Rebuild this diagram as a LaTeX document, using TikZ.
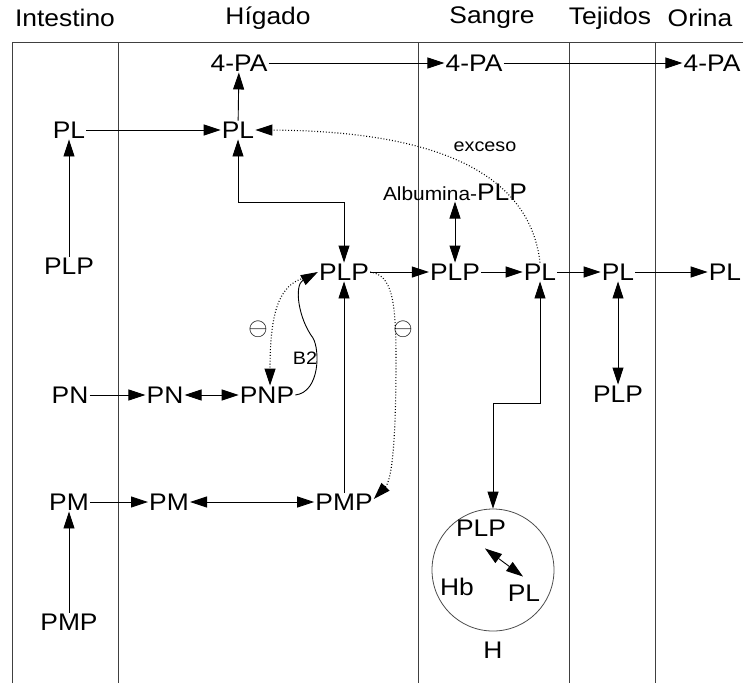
\documentclass[tikz,border=0pt]{standalone}
\usepackage{fontspec}
\setmainfont{Liberation Sans}[FakeStretch=1.1]
\usepackage{tikz}
\usetikzlibrary{arrows.meta}
\tikzstyle{lane} = [draw=black!75, 
line width=1pt]
\tikzstyle{head} = [inner sep=0pt, 
font=\fontsize{24}{24}\selectfont]
\tikzstyle{mol} = [inner sep=1pt, 
font=\fontsize{24}{24}\selectfont]
\tikzstyle{note} = [inner sep=1pt, 
font=\fontsize{18}{18}\selectfont]
\tikzstyle{cell} = [circle, 
draw=black!70, 
line width=0.8pt, 
minimum size=122pt]
\tikzstyle{arrow} = [line width=0.9pt, -{Triangle[length=17pt,width=11pt]}]
\tikzstyle{both} = [line width=0.9pt, {Triangle[length=17pt,width=11pt]}-{Triangle[length=17pt,width=11pt]}]
\tikzstyle{dots} = [arrow, dotted, line width=1.1pt]

\begin{document}
\begin{tikzpicture}[x=1pt, y=-1pt]
		\useasboundingbox (0,0) rectangle (743,683);
		\draw [lane] (12,683) |- (743,42);
		\foreach \x in {118,418,569,655}
			\draw [lane] (\x,42) -- (\x,683);
	
		\node (hint) [head] at (65,18) {Intestino};
		\node (hhig) [head] at (268,18) {Hígado};
		\node (hsan) [head] at (492,18) {Sangre};
		\node (htej) [head] at (610,18) {Tejidos};
		\node (hori) [head] at (700,18) {Orina};
	
		\node (pahig) [mol] at (239,63) {4-PA};
		\node (pasan) [mol] at (474,63) {4-PA};
		\node (paori) [mol] at (712,63) {4-PA};
		\node (plint) [mol] at (69,130) {PL};
		\node (plhig) [mol] at (238,130) {PL};
		\node (plpint) [mol] at (69,266) {PLP};
		\node (alb) [mol] at (455,192) {{\fontsize{19}{19}\selectfont Albumina-}PLP};
		\node (plphig) [mol] at (344,272) {PLP};
		\node (plpsan) [mol] at (455,272) {PLP};
		\node (plsan) [mol] at (540,272) {PL};
		\node (pltej) [mol] at (618,272) {PL};
		\node (plori) [mol] at (725,272) {PL};
		\node (plptej) [mol] at (618,394) {PLP};
		\node (pnint) [mol] at (70,395) {PN};
		\node (pnhig) [mol] at (165,395) {PN};
		\node (pnp) [mol] at (267,395) {PNP};
		\node (pmint) [mol] at (69,502) {PM};
		\node (pmhig) [mol] at (169,502) {PM};
		\node (pmp) [mol] at (344,502) {PMP};
		\node (pmpint) [mol] at (69,622) {PMP};
		\node (hcell) [cell] at (493,570) {};
		\node (hplp) [mol] at (481,528) {PLP};
		\node (hhb) [mol] at (457,587) {Hb};
		\node (hpl) [mol] at (524,593) {PL};
		\node (hlab) [mol] at (493,650) {H};
		\node (exc) [note] at (485,147) {exceso};
		\node (b2) [note] at (305,358) {B2};
		\node (inh1) [note] at (258,329) {\fontsize{24}{24}\selectfont$\ominus$};
		\node (inh2) [note] at (403,329) {\fontsize{24}{24}\selectfont$\ominus$};
		\coordinate (k1) at (344,202);
		\coordinate (k2) at (493,403);
	
		\draw [arrow] (plint) -- (plhig);
		\draw [arrow] (plpint) -- (plint);
		\draw [arrow] (plhig) -- (pahig);
		\draw [arrow] (pahig) -- (pasan);
		\draw [arrow] (pasan) -- (paori);
		\draw [both] (plhig) |- (k1) -- (plphig);
		\draw [arrow] (pmp) -- (plphig);
		\draw [arrow] (plphig) -- (plpsan);
		\draw [arrow] (plpsan) -- (plsan);
		\draw [arrow] (plsan) -- (pltej);
		\draw [arrow] (pltej) -- (plori);
		\draw [both] (alb) -- (plpsan);
		\draw [both] (pltej) -- (plptej);
		\draw [arrow] (pnint) -- (pnhig);
		\draw [both] (pnhig) -- (pnp);
		\draw [arrow] (pmint) -- (pmhig);
		\draw [both] (pmhig) -- (pmp);
		\draw [arrow] (pmpint) -- (pmint);
		\draw [both] (plsan) |- (k2) -- (hcell);
		\draw [both] ([shift={(4pt,-11pt)}]hplp.south) -- ([shift={(-1pt,7pt)}]hpl.north);
	
		\draw [dots] (plsan.north) .. controls (530,175) and (440,131) .. (plhig.east);
		\draw [dots] ([shift={(-14pt,-6pt)}]plphig.west) .. controls (280,285) and (270,310) .. ([xshift=3pt]pnp.north);
		\draw [arrow] (pnp.east) .. controls (320,392) and (320,350) .. (313,338) .. controls (298,318) and (294,285) .. (plphig.west);
		\draw [dots] (plphig.east) .. controls (392,275) and (396,300) .. (396,360) .. controls (396,440) and (392,480) .. ([yshift=3pt]pmp.east);
	\end{tikzpicture}
\end{document}
